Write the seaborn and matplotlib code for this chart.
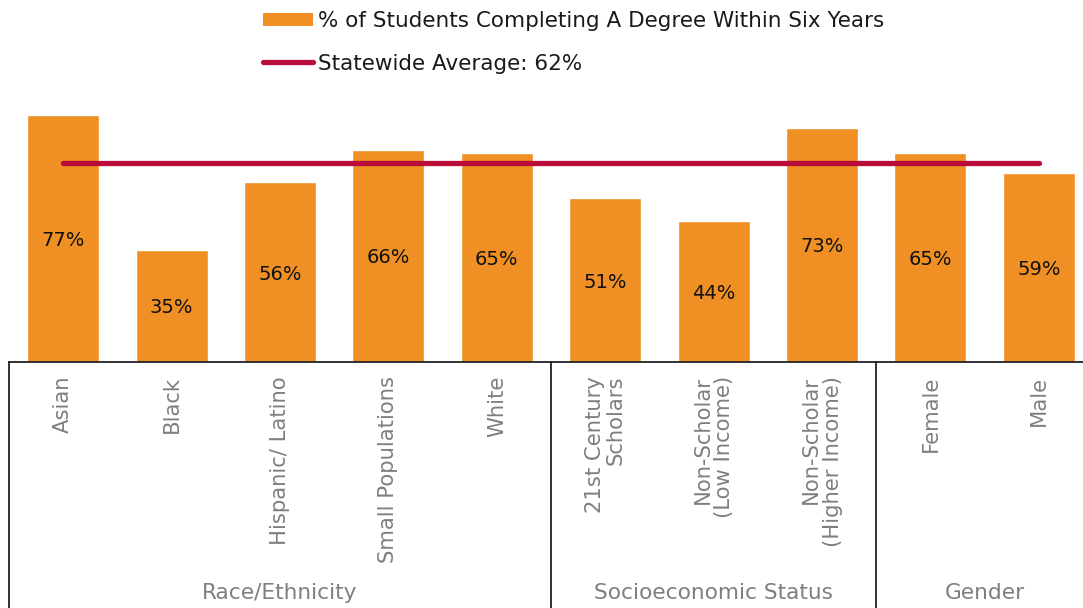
import matplotlib
matplotlib.use("Agg")
import matplotlib.pyplot as plt
import matplotlib.transforms as mtransforms
from matplotlib.patches import Patch
from matplotlib.lines import Line2D
import seaborn as sns
import pandas as pd

# --- data -------------------------------------------------------------
categories = ["Asian", "Black", "Hispanic/ Latino", "Small Populations", "White",
              "21st Century\nScholars", "Non-Scholar\n(Low Income)",
              "Non-Scholar\n(Higher Income)", "Female", "Male"]
completion_pct = [77, 35, 56, 66, 65, 51, 44, 73, 65, 59]
groups = ["Race/Ethnicity"] * 5 + ["Socioeconomic Status"] * 3 + ["Gender"] * 2
statewide_avg = 62

bar_label = "% of Students Completing A Degree Within Six Years"
avg_label = f"Statewide Average: {statewide_avg}%"

# --- style ------------------------------------------------------------
BAR = "#EF8F24"
AVG = "#BA0C3B"
GREY = "#7F7F7F"

sns.set_theme(style="white")
plt.rcParams["font.family"] = ["DejaVu Sans"]

df = pd.DataFrame({"category": categories, "pct": completion_pct, "group": groups})

fig = plt.figure(figsize=(10.83, 6.08), dpi=100)
ax = fig.add_axes([9 / 1083, (608 - 362) / 608, (1083 - 9) / 1083, 262 / 608])

sns.barplot(data=df, x="category", y="pct", color=BAR, saturation=1,
            width=0.664, ax=ax)

n = len(categories)
ax.plot([0, n - 1], [statewide_avg, statewide_avg], color=AVG, lw=3.8,
        solid_capstyle="round", zorder=5)

ax.set_xlim(-0.5, -0.5 + (1083 - 9) / 108.4)
ax.set_ylim(0, 81.6)

# value labels centred inside each bar
for i, v in enumerate(df["pct"]):
    ax.text(i, v / 2 - 0.6, f"{v}%", ha="center", va="center", fontsize=14,
            color="#111111", zorder=6)

# axes cosmetics
for side in ["top", "right", "left"]:
    ax.spines[side].set_visible(False)
ax.spines["bottom"].set_color("#222222")
ax.spines["bottom"].set_linewidth(1.3)
ax.set_yticks([])
ax.set_xlabel("")
ax.set_ylabel("")
ax.tick_params(axis="x", length=0, pad=10)
ax.set_xticks(range(n))
ax.set_xticklabels(categories, rotation=90, fontsize=15.2, color=GREY,
                   ha="center", va="top", multialignment="right",
                   linespacing=1.08)

# group separators and group names below the axis
trans = mtransforms.blended_transform_factory(ax.transData, ax.transAxes)
y_bottom = -(608 - 362) / 262
order = list(dict.fromkeys(groups))
bounds = [-0.5]
for g in order:
    idx = [i for i, gg in enumerate(groups) if gg == g]
    bounds.append(idx[-1] + 0.5)
    ax.text(sum(idx) / len(idx), -(593 - 362) / 262, g, transform=trans,
            ha="center", va="center", fontsize=15.6, color=GREY)
for b in bounds[:-1]:
    ax.add_line(Line2D([b, b], [0, y_bottom], transform=trans, color="#222222",
                       lw=1.3, clip_on=False))

# legend
handles = [Patch(facecolor=BAR, edgecolor="none"),
           Line2D([0], [0], color=AVG, lw=3.8, solid_capstyle="round")]
fig.legend(handles, [bar_label, avg_label], loc="upper left",
           bbox_to_anchor=(263 / 1083, 1 - 11 / 608), frameon=False,
           fontsize=15.5, handlelength=2.3, handleheight=0.6,
           handletextpad=0.25, labelspacing=1.05, borderpad=0,
           borderaxespad=0, labelcolor="#1a1a1a")

fig.savefig("out.png", dpi=100)
